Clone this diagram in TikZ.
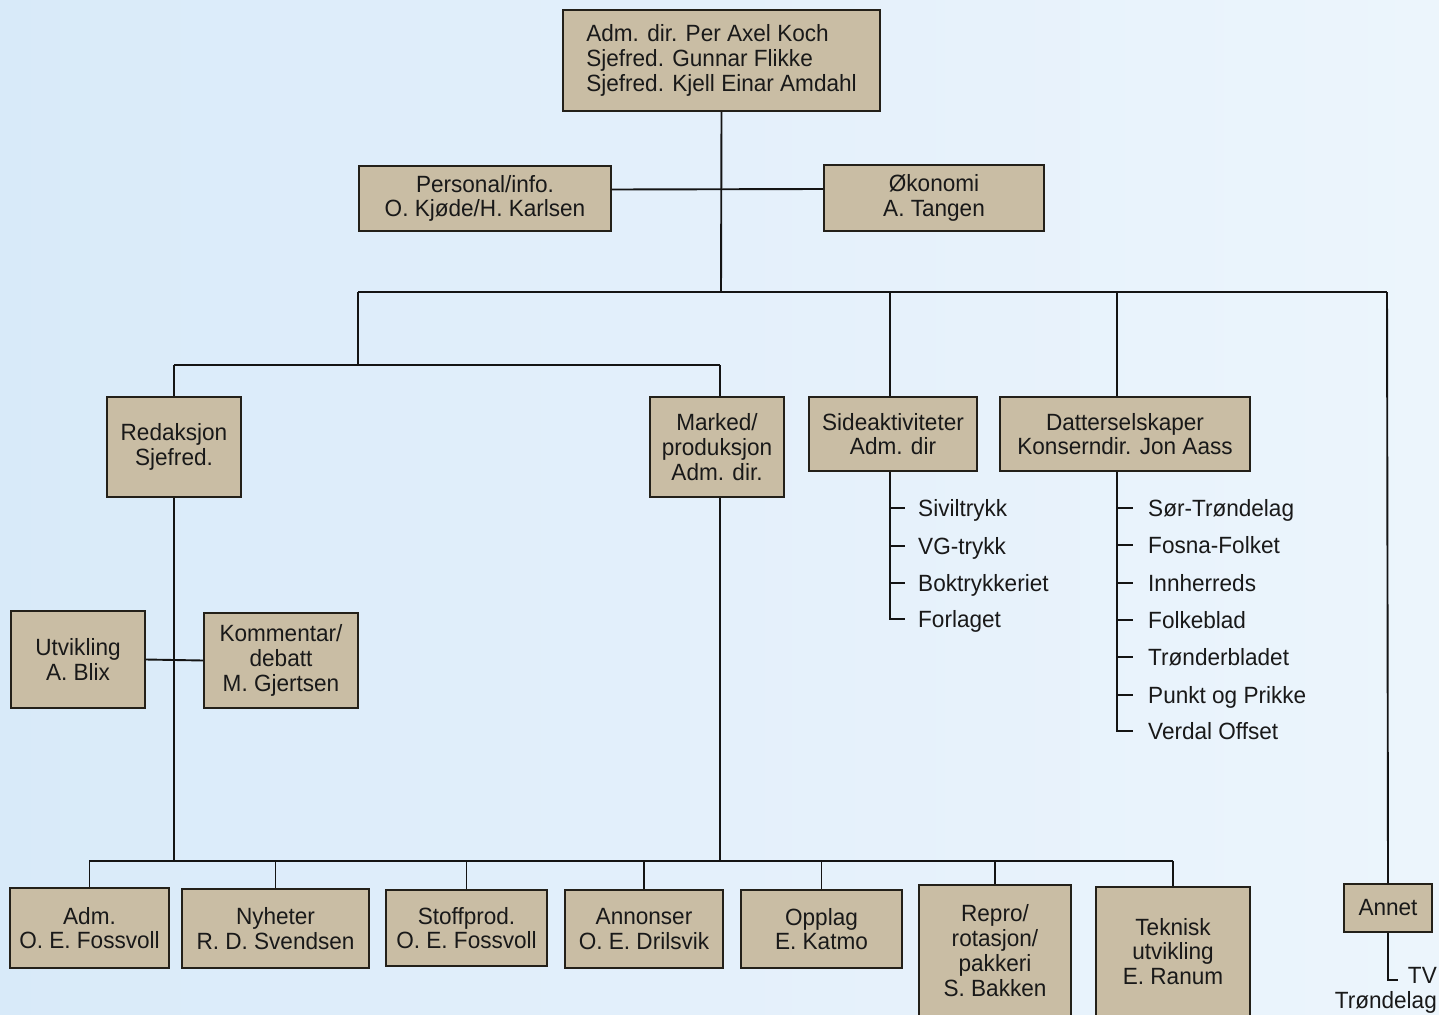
\documentclass[tikz,border=0pt]{standalone}
\usepackage{fontspec}
\setmainfont{Liberation Sans}[FakeStretch=0.96]
\definecolor{boxfill}{RGB}{201,189,164}
\definecolor{boxline}{RGB}{35,32,25}
\definecolor{bgL}{RGB}{216,234,249}
\definecolor{bgM}{RGB}{228,240,251}
\definecolor{bgR}{RGB}{236,245,252}
\definecolor{lincol}{RGB}{20,20,20}
\begin{document}
\begin{tikzpicture}[x=1pt,y=-1pt,
  box/.style={draw=boxline, line width=1.5pt, fill=boxfill, inner sep=0pt, align=center,
    font=\fontsize{23.5}{24.8}\selectfont, text=black!90},
  conn/.style={line width=1.9pt, draw=lincol},
  item/.style={anchor=west, inner sep=0pt, text height=17pt, text depth=1pt,
    font=\fontsize{23.5}{24.8}\selectfont, text=black!90}]
\useasboundingbox (0,0) rectangle (1439,1014);
\fill[left color=bgL, right color=bgR, middle color=bgM] (0,0) rectangle (1439,1014);

% boxes
\node[box, minimum width=317pt, minimum height=101pt, align=left] (top) at (721.5,60.5)
  {Adm. dir. Per Axel Koch\\Sjefred. Gunnar Flikke\\Sjefred. Kjell Einar Amdahl};
\node[box, minimum width=252pt, minimum height=65pt] (pers) at (485,198.5) {Personal/info.\\O. Kjøde/H. Karlsen};
\node[box, minimum width=220pt, minimum height=66pt] (oko) at (934,198) {Økonomi\\A. Tangen};
\node[box, minimum width=134pt, minimum height=100pt] (red) at (174,447) {Redaksjon\\Sjefred.};
\node[box, minimum width=134pt, minimum height=100pt] (mark) at (717,447) {Marked/\\produksjon\\Adm. dir.};
\node[box, minimum width=168pt, minimum height=74pt] (side) at (893,434) {Sideaktiviteter\\Adm. dir};
\node[box, minimum width=250pt, minimum height=74pt] (datt) at (1125,434) {Datterselskaper\\Konserndir. Jon Aass};
\node[box, minimum width=134pt, minimum height=97pt] (utv) at (78,659.5) {Utvikling\\A. Blix};
\node[box, minimum width=154pt, minimum height=95pt] (komm) at (281,660.5) {Kommentar/\\debatt\\M. Gjertsen};
\node[box, minimum width=159pt, minimum height=80pt] (adm) at (89.5,928) {Adm.\\O. E. Fossvoll};
\node[box, minimum width=187pt, minimum height=79pt] (nyh) at (275.5,928.5) {Nyheter\\R. D. Svendsen};
\node[box, minimum width=161pt, minimum height=76pt] (stoff) at (466.5,928) {Stoffprod.\\O. E. Fossvoll};
\node[box, minimum width=158pt, minimum height=78pt] (ann) at (644,929) {Annonser\\O. E. Drilsvik};
\node[box, minimum width=161pt, minimum height=78pt] (oppl) at (821.5,929) {Opplag\\E. Katmo};
\node[box, minimum width=152pt, minimum height=131pt] (repro) at (995,950.5) {Repro/\\rotasjon/\\pakkeri\\S. Bakken};
\node[box, minimum width=154pt, minimum height=129pt] (tek) at (1173,951.5) {Teknisk\\utvikling\\E. Ranum};
\node[box, minimum width=88pt, minimum height=48pt] (annet) at (1388,908) {Annet};

% list items
\node[item] (s1) at (918,508) {Siviltrykk};
\node[item] (s2) at (918,546) {VG-trykk};
\node[item] (s3) at (918,583) {Boktrykkeriet};
\node[item] (s4) at (918,619) {Forlaget};
\node[item] (d1) at (1148,508) {Sør-Trøndelag};
\node[item] (d2) at (1148,545) {Fosna-Folket};
\node[item] (d3) at (1148,583) {Innherreds};
\node[item] (d4) at (1148,620) {Folkeblad};
\node[item] (d5) at (1148,657) {Trønderbladet};
\node[item] (d6) at (1148,695) {Punkt og Prikke};
\node[item] (d7) at (1148,731) {Verdal Offset};
\node[inner sep=0pt, align=right, anchor=north east, font=\fontsize{23.5}{24.8}\selectfont, text=black!90] (tv) at (1437,967) {TV\\Trøndelag};

% junction coordinates
\coordinate (jt) at (721,292);
\coordinate (h1L) at (358,292);
\coordinate (h1R) at (1387,292);
\coordinate (jr) at (358,365);
\coordinate (h2L) at (174,365);
\coordinate (h2R) at (720,365);
\coordinate (h3L) at (89,861);
\coordinate (h3R) at (1173,861);
\coordinate (sx) at ([xshift=-3pt]side.south);
\coordinate (dx) at ([xshift=-8pt]datt.south);
\coordinate (mx) at ([xshift=3pt]mark.south);
\coordinate (tvend) at (1398,980);

% connectors
\draw[conn] (top.south) -- (jt);
\draw[conn] ([yshift=9pt]pers.east) -- ([yshift=9pt]oko.west);
\draw[conn] (h1L) -- (h1R);
\draw[conn] (h1L) -- (jr);
\draw[conn] (h1L -| sx) -- ([xshift=-3pt]side.north);
\draw[conn] (h1L -| dx) -- ([xshift=-8pt]datt.north);
\draw[conn] (h1R) -- (annet.north);
\draw[conn] (h2L) -- (h2R);
\draw[conn] (h2L) -- (red.north);
\draw[conn] (h2R) -- ([xshift=3pt]mark.north);
\draw[conn] (red.south) -- (red.south |- h3L);
\draw[conn] (mx) -- (mx |- h3L);
\draw[conn] (utv.east) -- (komm.west);
\draw[conn] (h3L) -- (h3R);
\foreach \b in {adm,nyh,stoff,ann,oppl,repro,tek}
  \draw[conn] (\b.north |- h3L) -- (\b.north);
% lists
\draw[conn] (sx) -- (sx |- s4) -- ++(15,0);
\foreach \i in {s1,s2,s3} \draw[conn] (sx |- \i) -- ++(15,0);
\draw[conn] (dx) -- (dx |- d7) -- ++(16,0);
\foreach \i in {d1,d2,d3,d4,d5,d6} \draw[conn] (dx |- \i) -- ++(16,0);
\draw[conn] (annet.south) |- (tvend);
\end{tikzpicture}
\end{document}
